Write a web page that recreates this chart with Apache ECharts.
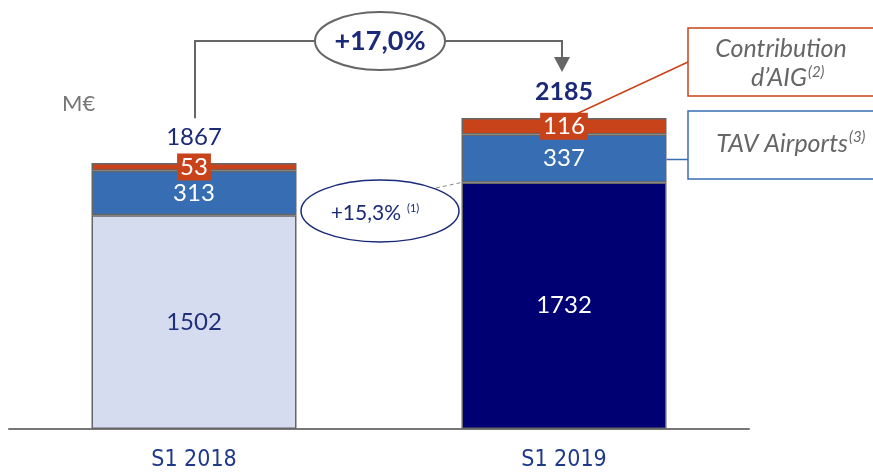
<!DOCTYPE html>
<html>
<head>
<meta charset="utf-8">
<script src="https://cdn.jsdelivr.net/npm/echarts@6/dist/echarts.min.js"></script>
<style>
  html, body { margin: 0; padding: 0; background: #fff; }
  #chart { width: 873px; height: 472px; }
</style>
</head>
<body>
<div id="chart"></div>
<script>
const categories = ['S1 2018', 'S1 2019']
const baseValues = [1502, 1732]
const tavValues = [313, 337]
const aigValues = [53, 116]
const totals = [1867, 2185]
const baseColors = ['#d6dcf0', '#000073']
const baseLabelColors = ['#1f2f7a', '#ffffff']

const FONT = 'Lato, "Noto Sans", sans-serif'
const NAVY = '#1a2a78'
const GRAY = '#666666'

const chart = echarts.init(document.getElementById('chart'))

const barBorder = { borderColor: '#666', borderWidth: 1.5 }

chart.setOption({
  animation: false,
  grid: { left: 9, right: 124, top: 2, bottom: 42 },
  xAxis: {
    type: 'category',
    data: categories,
    axisTick: { show: false },
    axisLine: { lineStyle: { color: '#777', width: 2 } },
    axisLabel: {
      margin: 20,
      color: '#1f3a8a',
      fontSize: 23,
      fontFamily: '"DejaVu Sans Condensed", "Liberation Sans Narrow", "Noto Sans", sans-serif'
    }
  },
  yAxis: { type: 'value', min: 0, max: 3000, show: false, splitLine: { show: false } },
  series: [
    {
      name: 'base',
      type: 'bar',
      stack: 'a',
      barWidth: 205,
      data: baseValues.map((v, i) => ({
        value: v,
        itemStyle: Object.assign({ color: baseColors[i] }, barBorder),
        label: { color: baseLabelColors[i] }
      })),
      label: { show: true, position: 'inside', fontSize: 24, fontFamily: FONT }
    },
    {
      name: 'TAV Airports',
      type: 'bar',
      stack: 'a',
      data: tavValues,
      itemStyle: Object.assign({ color: '#376db2' }, barBorder),
      label: { show: true, position: 'inside', color: '#fff', fontSize: 24, fontFamily: FONT }
    },
    {
      name: "Contribution d'AIG",
      type: 'bar',
      stack: 'a',
      data: aigValues,
      itemStyle: Object.assign({ color: '#c9431a' }, barBorder),
      label: {
        show: true,
        position: 'inside',
        color: '#fff',
        fontSize: 24,
        fontFamily: FONT,
        backgroundColor: '#c9431a',
        padding: [2, 3, 1, 3]
      }
    },
    {
      name: 'total',
      type: 'bar',
      stack: 'a',
      data: totals.map(() => 0),
      itemStyle: { color: 'transparent' },
      label: {
        show: true,
        position: 'top',
        distance: 14,
        formatter: p => p.dataIndex === 1 ? '{b|' + totals[1] + '}' : '{n|' + totals[0] + '}',
        rich: {
          n: { fontSize: 24, color: NAVY, fontFamily: FONT },
          b: { fontSize: 25, color: NAVY, fontFamily: FONT, fontWeight: 'bold' }
        }
      }
    }
  ]
})

function txt(x, y, text, font, fill, align) {
  return { type: 'text', x: x, y: y, style: { text: text, font: font, fill: fill, align: align || 'center', verticalAlign: 'middle' } }
}

// annotations placed from the axis scale
function drawNotes() {
  const top1 = chart.convertToPixel({ seriesIndex: 0 }, [0, totals[0]])
  const top2 = chart.convertToPixel({ seriesIndex: 0 }, [1, totals[1]])
  const base2 = chart.convertToPixel({ seriesIndex: 0 }, [1, baseValues[1]])
  const tavTop2 = chart.convertToPixel({ seriesIndex: 0 }, [1, baseValues[1] + tavValues[1] / 2])
  const barHalf = 102.5
  const lineY = 41
  const midX = (top1[0] + top2[0]) / 2 + 1
  chart.setOption({
    graphic: [
      { type: 'polyline', shape: { points: [[top1[0] + 1, top1[1] - 45], [top1[0] + 1, lineY], [midX - 65, lineY]] },
        style: { stroke: GRAY, lineWidth: 2, fill: null } },
      { type: 'polyline', shape: { points: [[midX + 65, lineY], [top2[0] - 2, lineY], [top2[0] - 2, 58]] },
        style: { stroke: GRAY, lineWidth: 2, fill: null } },
      { type: 'polygon', shape: { points: [[top2[0] - 10, 57], [top2[0] + 6, 57], [top2[0] - 2, 72]] },
        style: { fill: GRAY } },
      { type: 'ellipse', shape: { cx: midX, cy: lineY, rx: 65, ry: 29 },
        style: { fill: '#fff', stroke: GRAY, lineWidth: 2 } },
      txt(midX, lineY, '+17,0%', 'bold 27px ' + FONT, NAVY),

      { type: 'line', shape: { x1: midX + 56, y1: 188, x2: base2[0] - barHalf, y2: base2[1] },
        style: { stroke: '#888', lineWidth: 1, lineDash: [4, 3] } },
      { type: 'ellipse', shape: { cx: midX, cy: 211, rx: 79, ry: 31 },
        style: { fill: '#fff', stroke: NAVY, lineWidth: 1.5 } },
      txt(401, 213, '+15,3%', '21px ' + FONT, NAVY, 'right'),
      txt(407, 208, '(1)', '11px ' + FONT, NAVY, 'left'),

      { type: 'line', shape: { x1: 688, y1: 62, x2: top2[0] + 8, y2: top2[1] - 2 },
        style: { stroke: '#c9431a', lineWidth: 1.5 } },
      { type: 'rect', shape: { x: 688, y: 28, width: 190, height: 68 },
        style: { fill: '#fff', stroke: '#c9431a', lineWidth: 1.5 } },
      txt(781, 49, 'Contribution', 'italic 25px ' + FONT, GRAY),
      txt(807, 78, 'd\u2019AIG', 'italic 25px ' + FONT, GRAY, 'right'),
      txt(808, 72, '(2)', 'italic 15px ' + FONT, GRAY, 'left'),

      { type: 'line', shape: { x1: top2[0] + barHalf, y1: tavTop2[1] + 1, x2: 688, y2: tavTop2[1] + 1 },
        style: { stroke: '#376db2', lineWidth: 1.5 } },
      { type: 'rect', shape: { x: 688, y: 111, width: 190, height: 68 },
        style: { fill: '#fff', stroke: '#376db2', lineWidth: 1.5 } },
      txt(848, 144, 'TAV Airports', 'italic 25px ' + FONT, GRAY, 'right'),
      txt(849, 137, '(3)', 'italic 15px ' + FONT, GRAY, 'left'),

      txt(62, 104, 'M\u20ac', '22px ' + FONT, '#777', 'left')
    ]
  })
}
drawNotes()
</script>
</body>
</html>
